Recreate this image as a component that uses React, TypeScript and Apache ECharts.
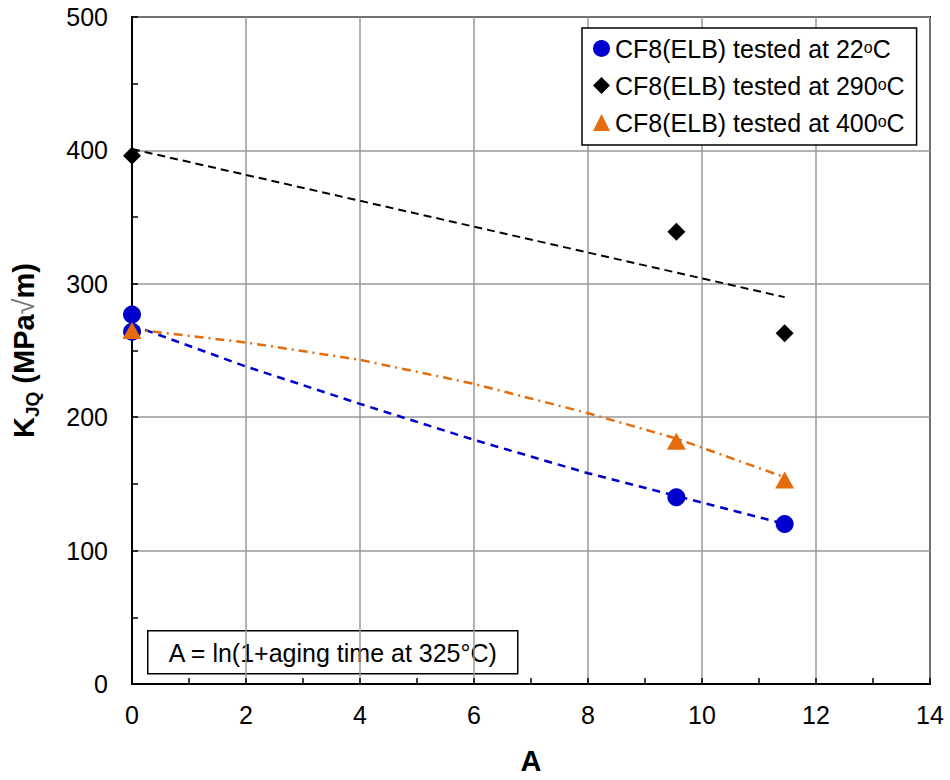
import React, { useEffect, useRef } from "react";
import * as echarts from "echarts";

const FONT = "'Liberation Sans', Arial, sans-serif";

// Measured data
const temps = ["22", "290", "400"];
const A22 = [0, 0, 9.55, 11.45];
const K22 = [277, 264, 140, 120];
const A290 = [0, 9.55, 11.45];
const K290 = [396, 339, 263];
const A400 = [0, 9.55, 11.45];
const K400 = [265, 182, 153];

// Trend lines
const fitA22 = [0, 2, 4, 6, 8, 9.55, 11.45];
const fitK22 = [269, 238, 210, 183, 158, 141, 120];
const fitA290 = [0, 11.45];
const fitK290 = [401, 290];
const fitA400 = [0, 2, 4, 6, 8, 9.55, 11.45];
const fitK400 = [266, 256, 243, 225, 203, 184, 155];

const xTicks = { min: 0, max: 14, interval: 2 };
const yTicks = { min: 0, max: 500, interval: 100 };

const BLUE = "#0000CC";
const BLACK = "#000000";
const ORANGE = "#E46C0A";

const seriesNames = temps.map((t) => `CF8(ELB) tested at ${t}oC`);
const zip = (a: number[], b: number[]) => a.map((v, i) => [v, b[i]]);

export default function App() {
  const ref = useRef<HTMLDivElement>(null);
  useEffect(() => {
    if (!ref.current) return;
    const chart = echarts.init(ref.current, null, { renderer: "svg" });
    const gridL = 132, gridT = 17, gridW = 798, gridH = 670;
    chart.setOption({
      animation: false,
      backgroundColor: "#fff",
      textStyle: { fontFamily: FONT },
      grid: {
        left: gridL, top: gridT, width: gridW, height: gridH,
        show: true, borderColor: "#000", borderWidth: 2, backgroundColor: "#fff",
      },
      legend: {
        data: seriesNames,
        orient: "vertical",
        left: 582, top: 28,
        padding: [8, 12, 10, 11],
        itemGap: 12,
        itemWidth: 17, itemHeight: 17,
        borderColor: "#000", borderWidth: 1.5,
        backgroundColor: "#fff",
        formatter: (name: string) => {
          const base = name.replace(/oC$/, "");
          return `{t|${base}}{o|o}{t|C}`;
        },
        textStyle: {
          color: "#000",
          fontFamily: FONT,
          rich: {
            t: { fontSize: 25, fontFamily: FONT, color: "#000", verticalAlign: "bottom" },
            o: { fontSize: 16, fontFamily: FONT, color: "#000", verticalAlign: "bottom", padding: [0, 0, 6, 0] },
          },
        },
      },
      xAxis: {
        type: "value",
        ...xTicks,
        name: "A",
        nameLocation: "middle",
        nameGap: 62,
        nameTextStyle: { fontSize: 29, fontWeight: "bold", color: "#000", fontFamily: FONT },
        axisLine: { show: true, lineStyle: { color: "#000", width: 2 } },
        axisTick: { show: true, inside: true, length: 6, lineStyle: { color: "#000", width: 1.5 } },
        minorTick: { show: true, splitNumber: 2, length: 6, lineStyle: { color: "#000", width: 1.5 } },
        axisLabel: { fontSize: 25, color: "#000", margin: 18, fontFamily: FONT },
        splitLine: { show: true, lineStyle: { color: "#999", width: 1.5 } },
      },
      yAxis: {
        type: "value",
        ...yTicks,
        name: "{b|K}{s|JQ}{b| (MPa}{r|√}{b|m)}",
        nameLocation: "middle",
        nameGap: 90,
        nameRotate: 90,
        nameTextStyle: {
          color: "#000",
          fontFamily: FONT,
          rich: {
            b: { fontSize: 29, fontWeight: "bold", color: "#000", fontFamily: FONT, verticalAlign: "top" },
            s: { fontSize: 19, fontWeight: "bold", color: "#000", fontFamily: FONT, verticalAlign: "top", padding: [14, 0, 0, 0] },
            r: { fontSize: 29, fontWeight: "normal", color: "#777", fontFamily: FONT, verticalAlign: "top" },
          },
        },
        axisLine: { show: true, lineStyle: { color: "#000", width: 2 } },
        axisTick: { show: true, inside: true, length: 6, lineStyle: { color: "#000", width: 1.5 } },
        minorTick: { show: true, splitNumber: 2, length: 6, lineStyle: { color: "#000", width: 1.5 } },
        axisLabel: { fontSize: 25, color: "#000", margin: 24, fontFamily: FONT },
        splitLine: { show: true, lineStyle: { color: "#999", width: 1.5 } },
      },
      graphic: [
        {
          type: "group",
          left: 147,
          top: 630,
          children: [
            { type: "rect", shape: { x: 0, y: 0, width: 370, height: 43 }, style: { fill: "#fff", stroke: "#000", lineWidth: 1.5 } },
            {
              type: "text",
              x: 185, y: 22,
              style: {
                text: "A = ln(1+aging time at 325°C)",
                fontSize: 25, fontFamily: FONT, fill: "#000",
                align: "center", verticalAlign: "middle",
              },
            },
          ],
        },
      ],
      series: [
        {
          name: "fit22", type: "line", data: zip(fitA22, fitK22),
          showSymbol: false, symbol: "none", lineStyle: { color: BLUE, width: 2.5, type: [8, 6] }, z: 2, silent: true,
        },
        {
          name: "fit290", type: "line", data: zip(fitA290, fitK290),
          showSymbol: false, symbol: "none", lineStyle: { color: BLACK, width: 2, type: [8, 5] }, z: 2, silent: true,
        },
        {
          name: "fit400", type: "line", data: zip(fitA400, fitK400),
          showSymbol: false, symbol: "none", lineStyle: { color: ORANGE, width: 2.5, type: [9, 5, 2, 5] }, z: 2, silent: true,
        },
        {
          name: seriesNames[0], type: "scatter", data: zip(A22, K22), symbol: "circle", symbolSize: 18,
          itemStyle: { color: BLUE, opacity: 1 }, z: 3,
        },
        {
          name: seriesNames[1], type: "scatter", data: zip(A290, K290), symbol: "diamond", symbolSize: 18,
          itemStyle: { color: BLACK, opacity: 1 }, z: 3,
        },
        {
          name: seriesNames[2], type: "scatter", data: zip(A400, K400), symbol: "triangle", symbolSize: [19, 17],
          itemStyle: { color: ORANGE, opacity: 1 }, z: 3,
        },
      ],
    });
    return () => chart.dispose();
  }, []);
  return <div ref={ref} style={{ width: 950, height: 780, position: "absolute", left: 0, top: 0 }} />;
}
